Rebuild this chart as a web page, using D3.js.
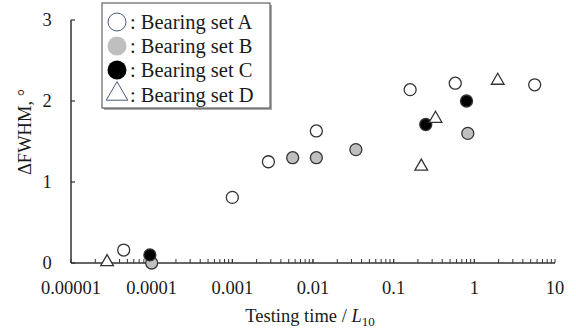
<!DOCTYPE html>
<html>
<head>
<meta charset="utf-8">
<script src="https://cdn.jsdelivr.net/npm/d3@7"></script>
<style>
  body { margin: 0; background: #fff; }
</style>
</head>
<body>
<svg id="chart" width="576" height="331" font-family="'Liberation Serif', 'DejaVu Serif', serif"></svg>
<script>
// data: [testing time / L10, dFWHM]
var setA = [[4.5e-5, 0.16], [0.001, 0.81], [0.0028, 1.25], [0.011, 1.63], [0.16, 2.14], [0.58, 2.22], [5.6, 2.2]];
var setB = [[1e-4, 0], [0.0056, 1.3], [0.011, 1.3], [0.034, 1.4], [0.83, 1.6]];
var setC = [[9.5e-5, 0.1], [0.25, 1.71], [0.8, 2.0]];
var setD = [[2.8e-5, 0], [0.22, 1.18], [0.33, 1.77], [1.95, 2.24]];
var xTicks = [0.00001, 0.0001, 0.001, 0.01, 0.1, 1, 10];
var xTickLabels = ['0.00001', '0.0001', '0.001', '0.01', '0.1', '1', '10'];
var yTicks = [0, 1, 2, 3];
var legendLabels = [': Bearing set A', ': Bearing set B', ': Bearing set C', ': Bearing set D'];

var svg = d3.select('#chart');
var x = d3.scaleLog().domain([1e-5, 10]).range([71, 555]);
var y = d3.scaleLinear().domain([0, 3]).range([263, 20]);
var axisColor = '#333';
var textColor = '#1a1a1a';

// axes lines
svg.append('line').attr('x1', 71).attr('x2', 71).attr('y1', y(3)).attr('y2', y(0))
  .attr('stroke', axisColor).attr('stroke-width', 1.5);
svg.append('line').attr('x1', 71).attr('x2', 555).attr('y1', y(0)).attr('y2', y(0))
  .attr('stroke', axisColor).attr('stroke-width', 1.5);

// y ticks (inward) and labels
yTicks.forEach(function(t) {
  svg.append('line').attr('x1', 71).attr('x2', 75).attr('y1', y(t)).attr('y2', y(t))
    .attr('stroke', axisColor).attr('stroke-width', 1.2);
  svg.append('text').attr('x', 47).attr('y', y(t) + 6).attr('text-anchor', 'middle')
    .attr('fill', textColor).style('font-size', '18.5px').text(t);
});

// x minor/major ticks (upward)
var minor = [];
for (var e = -5; e < 1; e++) {
  for (var m = 1; m <= 10; m++) minor.push(m * Math.pow(10, e));
}
minor.forEach(function(v) {
  var px = x(v);
  svg.append('line').attr('x1', px).attr('x2', px).attr('y1', y(0)).attr('y2', y(0) - 4)
    .attr('stroke', axisColor).attr('stroke-width', 1);
});
xTicks.forEach(function(t, i) {
  svg.append('text').attr('x', x(t)).attr('y', 294).attr('text-anchor', 'middle')
    .attr('fill', textColor).style('font-size', '18.5px').text(xTickLabels[i]);
});

// axis titles
var xt = svg.append('text').attr('x', 310).attr('y', 322).attr('text-anchor', 'middle')
  .attr('fill', textColor).style('font-size', '18.5px');
xt.append('tspan').text('Testing time / ');
xt.append('tspan').style('font-style', 'italic').text('L');
xt.append('tspan').attr('dy', 4).style('font-size', '13px').text('10');

svg.append('text').attr('transform', 'translate(31,132) rotate(-90)').attr('text-anchor', 'middle')
  .attr('fill', textColor).style('font-size', '18.5px').text('\u0394FWHM, \u00b0');

// markers
var tri = d3.symbol().type(d3.symbolTriangle).size(70);
function circles(data, fill) {
  svg.append('g').selectAll('circle').data(data).enter().append('circle')
    .attr('cx', function(d) { return x(d[0]); })
    .attr('cy', function(d) { return y(d[1]); })
    .attr('r', 6)
    .attr('fill', fill).attr('stroke', '#333').attr('stroke-width', 1.3);
}
circles(setA, '#fff');
circles(setB, '#bfbfbf');
circles(setC, '#000');
svg.append('g').selectAll('path').data(setD).enter().append('path')
  .attr('d', tri)
  .attr('transform', function(d) { return 'translate(' + x(d[0]) + ',' + (y(d[1]) - 1) + ')'; })
  .attr('fill', '#fff').attr('stroke', '#333').attr('stroke-width', 1.3);

// legend
var lg = svg.append('g');
lg.append('rect').attr('x', 104).attr('y', 5).attr('width', 168).attr('height', 105)
  .attr('fill', '#aaa');
lg.append('rect').attr('x', 102).attr('y', 3).attr('width', 168).attr('height', 105)
  .attr('fill', '#fff').attr('stroke', '#444').attr('stroke-width', 1);
var ly = [22, 46, 70, 95];
lg.append('circle').attr('cx', 117).attr('cy', ly[0]).attr('r', 9)
  .attr('fill', '#fff').attr('stroke', '#4a5a7a').attr('stroke-width', 1);
lg.append('circle').attr('cx', 117).attr('cy', ly[1]).attr('r', 9.5).attr('fill', '#bfbfbf');
lg.append('circle').attr('cx', 117).attr('cy', ly[2]).attr('r', 9.5).attr('fill', '#000');
lg.append('path').attr('d', d3.symbol().type(d3.symbolTriangle).size(200))
  .attr('transform', 'translate(117,' + (ly[3] - 1) + ')')
  .attr('fill', '#fff').attr('stroke', '#4a5a7a').attr('stroke-width', 1);
legendLabels.forEach(function(l, i) {
  lg.append('text').attr('x', 130).attr('y', ly[i] + 7).attr('fill', textColor)
    .style('font-size', '20.5px').text(l);
});
</script>
</body>
</html>
